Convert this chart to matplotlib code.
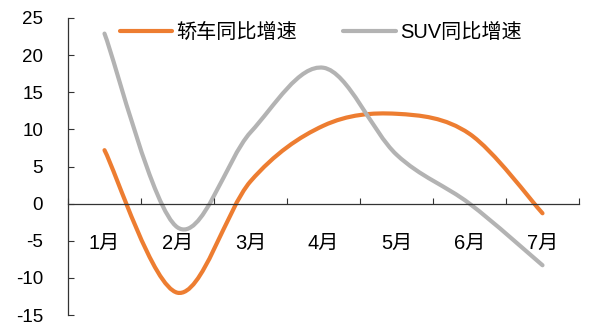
import numpy as np
import matplotlib.pyplot as plt
from matplotlib.path import Path
from matplotlib.patches import PathPatch

plt.rcParams['font.family'] = ['Liberation Sans', 'Noto Sans CJK SC']
plt.rcParams['axes.unicode_minus'] = False

months = ['1月', '2月', '3月', '4月', '5月', '6月', '7月']
sedan_yoy = [7.2, -12.0, 3.0, 10.5, 12.1, 9.4, -1.3]
suv_yoy = [22.9, -3.2, 9.6, 18.3, 6.6, 0.0, -8.3]

ORANGE = '#ED7D31'
GREY = '#B3B3B3'


def smooth_path(xs, ys):
    """Courbe lissée façon Excel : Bézier cubique passant par chaque point."""
    pts = np.column_stack([xs, ys]).astype(float)
    n = len(pts)
    verts = [pts[0]]
    codes = [Path.MOVETO]
    for i in range(n - 1):
        p0 = pts[i - 1] if i > 0 else pts[i]
        p1, p2 = pts[i], pts[i + 1]
        p3 = pts[i + 2] if i + 2 < n else pts[i + 1]
        c1 = p1 + (p2 - p0) / 6.0
        c2 = p2 - (p3 - p1) / 6.0
        verts += [c1, c2, p2]
        codes += [Path.CURVE4] * 3
    return Path(verts, codes)


fig = plt.figure(figsize=(5.89, 3.24), dpi=100)
ax = fig.add_axes([68 / 589, 1 - 315 / 324, (579 - 68) / 589, (315 - 18) / 324])

x = np.arange(len(months))
for vals, color, label in [(sedan_yoy, ORANGE, '轿车同比增速'),
                           (suv_yoy, GREY, 'SUV同比增速')]:
    ax.add_patch(PathPatch(smooth_path(x, vals), facecolor='none',
                           edgecolor=color, lw=3, capstyle='round'))
    ax.plot([], [], color=color, lw=3, solid_capstyle='round', label=label)

ax.set_xlim(-0.5, len(months) - 0.5)
ax.set_ylim(-15, 25)
ax.set_yticks(np.arange(-15, 26, 5))

ax.spines['top'].set_visible(False)
ax.spines['right'].set_visible(False)
ax.spines['bottom'].set_position(('data', 0))
for sp in ['left', 'bottom']:
    ax.spines[sp].set_color('#333333')
    ax.spines[sp].set_linewidth(0.9)

# graduations aux limites des catégories, étiquettes au centre
ax.set_xticks(np.arange(-0.5, len(months), 1.0))
ax.set_xticklabels([])
ax.set_xticks(x, minor=True)
ax.set_xticklabels(months, minor=True)
ax.tick_params(axis='x', which='major', direction='in', length=4, color='#333333')
ax.tick_params(axis='x', which='minor', length=0, pad=22, labelsize=14.5)
ax.tick_params(axis='y', direction='in', length=4, pad=18, labelsize=13.5,
               color='#333333')

ax.legend(loc='center left', bbox_to_anchor=((120 - 68) / 511, (315 - 32) / 297),
          ncol=2, frameon=False, borderpad=0, borderaxespad=0,
          fontsize=14.5, handlelength=2.6, handletextpad=0.2, columnspacing=2.3)

fig.savefig('out.png', dpi=100)
